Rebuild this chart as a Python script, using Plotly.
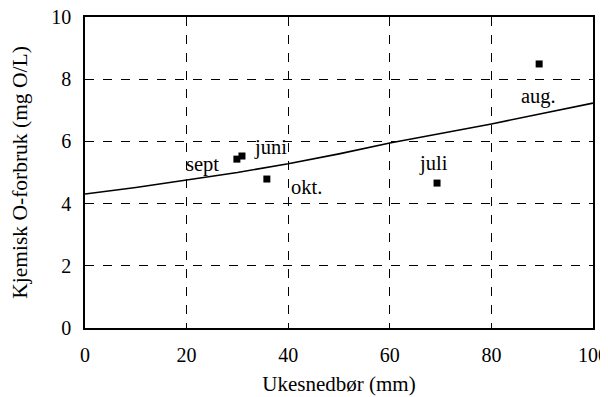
import plotly.graph_objects as go

# Measured data points
months = ["sept", "juni", "okt.", "juli", "aug."]
rain_mm = [29.9, 30.9, 35.8, 69.3, 89.4]
cod_mg = [5.43, 5.53, 4.79, 4.66, 8.49]

# Trendline
trend_x = [0, 10, 20, 30, 40, 50, 60, 70, 80, 90, 100]
trend_y = [4.31, 4.52, 4.76, 5.00, 5.28, 5.60, 5.95, 6.25, 6.56, 6.90, 7.23]

x_ticks = [0, 20, 40, 60, 80, 100]
y_ticks = [0, 2, 4, 6, 8, 10]

# label offsets in pixels (style)
label_shift = {"sept": (-34, -5), "juni": (29, 9), "okt.": (40, -8),
               "juli": (-4, 20), "aug.": (-1, -33)}

FONT = "Liberation Serif"

fig = go.Figure()
fig.add_trace(go.Scatter(x=trend_x, y=trend_y, mode="lines",
                         line=dict(color="black", width=1.6), hoverinfo="skip"))
fig.add_trace(go.Scatter(x=rain_mm, y=cod_mg, mode="markers",
                         marker=dict(symbol="square", size=7, color="black"),
                         text=months))

annotations = []
for m, xv, yv in zip(months, rain_mm, cod_mg):
    dx, dy = label_shift[m]
    annotations.append(dict(x=xv, y=yv, xref="x", yref="y", text=m,
                            showarrow=False, xshift=dx, yshift=dy,
                            font=dict(family=FONT, size=20.5, color="black")))

axis_common = dict(showline=True, linecolor="black", linewidth=1.5, mirror=True,
                   showgrid=True, gridcolor="black", gridwidth=1, griddash="dash",
                   zeroline=False, ticks="", automargin=False,
                   ticklabeloverflow="allow",
                   tickfont=dict(family=FONT, size=20, color="black"))

# page body has an 8px margin, so the figure is sized 600x389
fig.update_layout(
    width=600, height=389,
    margin=dict(l=77, r=15, t=9, b=69),
    paper_bgcolor="white", plot_bgcolor="white",
    showlegend=False,
    font=dict(family=FONT),
    annotations=annotations,
    xaxis=dict(range=[0, 100], tickvals=x_ticks, ticklabelstandoff=8,
               title=dict(text="Ukesnedbør (mm)", font=dict(family=FONT, size=21, color="black"),
                          standoff=12),
               **axis_common),
    yaxis=dict(range=[0, 10], tickvals=y_ticks, ticklabelstandoff=8,
               title=dict(text="Kjemisk O-forbruk (mg O/L)", font=dict(family=FONT, size=21.5, color="black"),
                          standoff=30),
               **axis_common),
)

fig.write_html("out.html")
